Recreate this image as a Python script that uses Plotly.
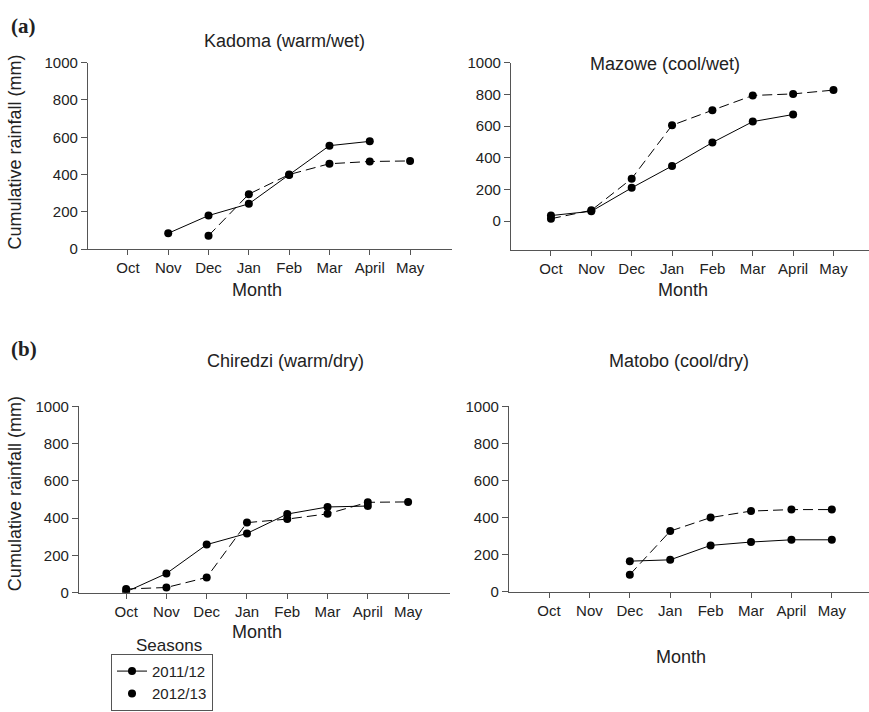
import plotly.graph_objects as go

W, H = 869, 712

months = ["Oct", "Nov", "Dec", "Jan", "Feb", "Mar", "April", "May"]
yticks = [0, 200, 400, 600, 800, 1000]
seasons = ["2011/12", "2012/13"]

kadoma_2011 = [None, 85, 180, 243, 398, 555, 578, None]
kadoma_2012 = [None, None, 72, 295, 400, 458, 470, 473]
mazowe_2011 = [35, 62, 210, 348, 496, 628, 673, None]
mazowe_2012 = [15, 68, 268, 605, 700, 793, 803, 827]
chiredzi_2011 = [5, 103, 258, 318, 422, 460, 465, None]
chiredzi_2012 = [20, 28, 82, 376, 395, 423, 485, 487]
matobo_2011 = [None, None, 165, 172, 250, 268, 280, 280]
matobo_2012 = [None, None, 92, 327, 400, 435, 443, 443]

titles = ["Kadoma (warm/wet)", "Mazowe (cool/wet)", "Chiredzi (warm/dry)", "Matobo (cool/dry)"]


def fx(p):
    return p / W


def fy(p):
    return 1 - p / H


FONT = "Liberation Sans, Arial, Helvetica, sans-serif"
AX = "#555555"
TXT = "#222222"
DASH = "10px,5px"
MSIZE = 8

fig = go.Figure()
xs = list(range(len(months)))

panels = [
    (kadoma_2011, kadoma_2012, "x", "y"),
    (mazowe_2011, mazowe_2012, "x2", "y2"),
    (chiredzi_2011, chiredzi_2012, "x3", "y3"),
    (matobo_2011, matobo_2012, "x4", "y4"),
]
for s1, s2, xa, ya in panels:
    fig.add_trace(go.Scatter(x=xs, y=s1, xaxis=xa, yaxis=ya, mode="lines+markers",
                             line=dict(color="black", width=1),
                             marker=dict(color="black", size=MSIZE), showlegend=False))
    fig.add_trace(go.Scatter(x=xs, y=s2, xaxis=xa, yaxis=ya, mode="lines+markers",
                             line=dict(color="black", width=1, dash=DASH),
                             marker=dict(color="black", size=MSIZE), showlegend=False))

# legend entries
fig.add_trace(go.Scatter(x=[None], y=[None], mode="lines+markers", name=seasons[0],
                         line=dict(color="black", width=1), marker=dict(color="black", size=MSIZE)))
fig.add_trace(go.Scatter(x=[None], y=[None], mode="markers", name=seasons[1],
                         marker=dict(color="black", size=MSIZE)))


def xaxis(domain, rng, anchor):
    return dict(domain=domain, range=rng, anchor=anchor, tickvals=xs, ticktext=months,
                showline=True, linecolor=AX, linewidth=1.3, ticks="outside", ticklen=5,
                tickcolor=AX, showgrid=False, zeroline=False,
                tickfont=dict(size=15, color=TXT, family=FONT))


def yaxis(domain, rng, anchor):
    return dict(domain=domain, range=rng, anchor=anchor, tickvals=yticks,
                showline=True, linecolor=AX, linewidth=1.3, ticks="outside", ticklen=6,
                tickcolor=AX, showgrid=False, zeroline=False,
                tickfont=dict(size=15, color=TXT, family=FONT))


fig.update_layout(
    width=W, height=H,
    margin=dict(l=0, r=0, t=0, b=0),
    paper_bgcolor="white", plot_bgcolor="white",
    font=dict(family=FONT, color=TXT),
    xaxis=xaxis([fx(88), fx(452)], [-0.99, 8.04], "y"),
    yaxis=yaxis([fy(246), fy(55)], [0, 1000], "x"),
    xaxis2=xaxis([fx(511), 1.0], [-0.99, 7.88], "y2"),
    yaxis2=yaxis([fy(247), fy(55)], [-183, 1000], "x2"),
    xaxis3=xaxis([fx(79), fx(450)], [-1.17, 8.04], "y3"),
    yaxis3=yaxis([fy(598), fy(407)], [0, 1000], "x3"),
    xaxis4=xaxis([fx(509), 1.0], [-0.99, 7.92], "y4"),
    yaxis4=yaxis([fy(597), fy(407)], [0, 1000], "x4"),
    legend=dict(x=fx(111), y=fy(719), xanchor="left", yanchor="bottom",
                bordercolor=AX, borderwidth=1, bgcolor="white",
                font=dict(size=15, color=TXT, family=FONT), tracegroupgap=0),
)

ann = []


def text(x, y, s, size=18, **kw):
    ann.append(dict(x=fx(x), y=fy(y), xref="paper", yref="paper", text=s, showarrow=False,
                    xanchor="center", yanchor="middle",
                    font=dict(size=size, color=TXT, family=kw.pop("family", FONT)), **kw))


text(284, 33, titles[0])
text(665, 56, titles[1])
text(285, 361, titles[2])
text(679, 361, titles[3])
text(257, 288, "Month")
text(683, 288, "Month")
text(257, 638, "Month")
text(681, 664, "Month")
text(15, 147, "Cumulative rainfall (mm)", textangle=-90)
text(15, 497, "Cumulative rainfall (mm)", textangle=-90)
text(169, 652, "Seasons", size=17)
text(23, 17, "<b>(a)</b>", size=21, family="Liberation Serif, Times New Roman, serif")
text(24, 348, "<b>(b)</b>", size=21, family="Liberation Serif, Times New Roman, serif")

fig.update_layout(annotations=ann)
fig.write_html("out.html", config={"displayModeBar": False},
               post_script="document.body.style.margin='0px';")
